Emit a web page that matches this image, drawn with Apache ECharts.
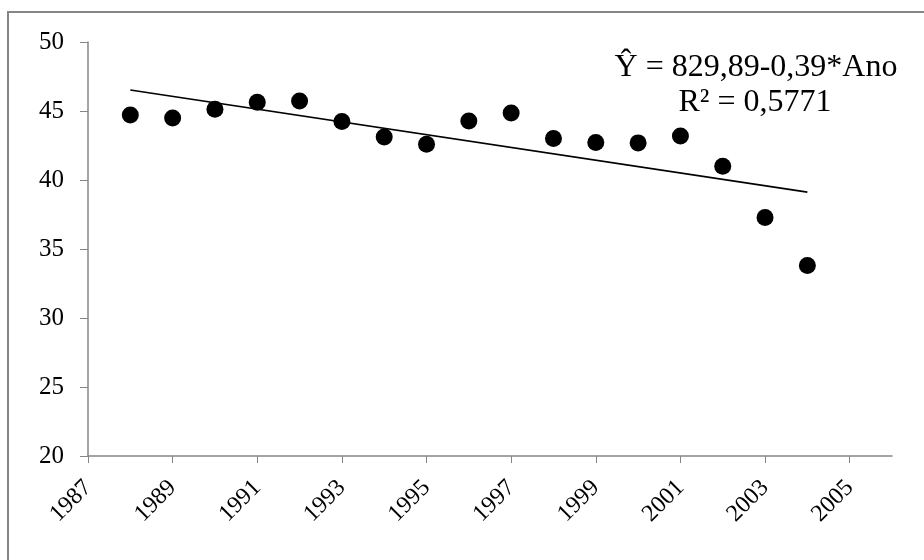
<!DOCTYPE html>
<html>
<head>
<meta charset="utf-8">
<script src="https://cdn.jsdelivr.net/npm/echarts@6/dist/echarts.min.js"></script>
<style>
html,body{margin:0;padding:0;background:#fff;}
#c{width:924px;height:560px;}
</style>
</head>
<body>
<div id="c"></div>
<script>
// Data
const years = [1988, 1989, 1990, 1991, 1992, 1993, 1994, 1995, 1996, 1997, 1998, 1999, 2000, 2001, 2002, 2003, 2004];
const values = [44.71, 44.50, 45.13, 45.63, 45.73, 44.24, 43.12, 42.59, 44.28, 44.86, 43.01, 42.72, 42.69, 43.19, 41.00, 37.28, 33.81];
const trendYears = [1988, 2004];
const trendValues = [46.52, 39.12];
const xTickLabels = [1987, 1989, 1991, 1993, 1995, 1997, 1999, 2001, 2003, 2005];
const yTickLabels = [20, 25, 30, 35, 40, 45, 50];
const equationLines = ['\u0176 = 829,89-0,39*Ano', 'R\u00B2 = 0,5771'];

const FONT = '"Liberation Serif", "Times New Roman", serif';
const AXIS_COLOR = '#868686';

const chart = echarts.init(document.getElementById('c'), null, {renderer: 'canvas'});

const pts = years.map((y, i) => [y, values[i]]);
const trend = trendYears.map((y, i) => [y, trendValues[i]]);

chart.setOption({
  backgroundColor: '#ffffff',
  animation: false,
  grid: {left: 88, right: 32, top: 42, bottom: 104, containLabel: false},
  xAxis: {
    type: 'value',
    min: 1987,
    max: 2006,
    splitLine: {show: false},
    axisLine: {show: true, onZero: false, lineStyle: {color: AXIS_COLOR, width: 1.5}},
    axisTick: {show: true, inside: false, length: 7, lineStyle: {color: AXIS_COLOR, width: 1}, customValues: xTickLabels},
    axisLabel: {
      customValues: xTickLabels,
      rotate: 45,
      margin: 28,
      color: '#000',
      fontFamily: FONT,
      fontSize: 24,
      formatter: v => String(v)
    }
  },
  yAxis: {
    type: 'value',
    min: yTickLabels[0],
    max: yTickLabels[yTickLabels.length - 1],
    interval: 5,
    splitLine: {show: false},
    axisLine: {show: true, lineStyle: {color: AXIS_COLOR, width: 1.5}},
    axisTick: {show: true, inside: false, length: 8, lineStyle: {color: AXIS_COLOR, width: 1}},
    axisLabel: {
      margin: 24,
      color: '#000',
      fontFamily: FONT,
      fontSize: 25
    }
  },
  series: [
    {
      type: 'line',
      data: trend,
      symbol: 'none',
      lineStyle: {color: '#000', width: 1.6},
      silent: true,
      z: 2
    },
    {
      type: 'scatter',
      data: pts,
      symbol: 'circle',
      symbolSize: 17,
      itemStyle: {color: '#000', opacity: 1},
      z: 3
    }
  ],
  graphic: [
    {
      type: 'rect',
      shape: {x: 8, y: 12, width: 960, height: 620},
      style: {fill: 'none', stroke: AXIS_COLOR, lineWidth: 2},
      silent: true,
      z: -1
    },
    {
      type: 'text',
      x: 756, y: 68,
      style: {text: equationLines[0], fill: '#000', font: '32px ' + FONT, textAlign: 'center', textVerticalAlign: 'middle'}
    },
    {
      type: 'text',
      x: 755, y: 103,
      style: {text: equationLines[1], fill: '#000', font: '32px ' + FONT, textAlign: 'center', textVerticalAlign: 'middle'}
    }
  ]
});
</script>
</body>
</html>
